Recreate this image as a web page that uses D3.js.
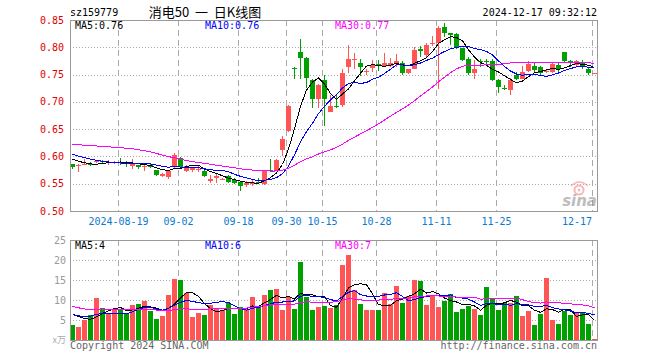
<!DOCTYPE html>
<html>
<head>
<meta charset="utf-8">
<script src="https://cdn.jsdelivr.net/npm/d3@7"></script>
<style>
  body { margin: 0; background: #fff; }
  svg text { font-family: "DejaVu Sans Mono", "Liberation Mono", monospace; }
</style>
</head>
<body>
<div id="chart"></div>
<script>
// trading days shown on the chart
var dates = [
  "2024-08-07","2024-08-08","2024-08-09","2024-08-12","2024-08-13","2024-08-14","2024-08-15","2024-08-16",
  "2024-08-19","2024-08-20","2024-08-21","2024-08-22","2024-08-23","2024-08-26","2024-08-27","2024-08-28",
  "2024-08-29","2024-08-30","2024-09-02","2024-09-03","2024-09-04","2024-09-05","2024-09-06","2024-09-09",
  "2024-09-10","2024-09-11","2024-09-12","2024-09-13","2024-09-18","2024-09-19","2024-09-20","2024-09-23",
  "2024-09-24","2024-09-25","2024-09-26","2024-09-27","2024-09-30","2024-10-08","2024-10-09","2024-10-10",
  "2024-10-11","2024-10-14","2024-10-15","2024-10-16","2024-10-17","2024-10-18","2024-10-21","2024-10-22",
  "2024-10-23","2024-10-24","2024-10-25","2024-10-28","2024-10-29","2024-10-30","2024-10-31","2024-11-01",
  "2024-11-04","2024-11-05","2024-11-06","2024-11-07","2024-11-08","2024-11-11","2024-11-12","2024-11-13",
  "2024-11-14","2024-11-15","2024-11-18","2024-11-19","2024-11-20","2024-11-21","2024-11-22","2024-11-25",
  "2024-11-26","2024-11-27","2024-11-28","2024-11-29","2024-12-02","2024-12-03","2024-12-04","2024-12-05",
  "2024-12-06","2024-12-09","2024-12-10","2024-12-11","2024-12-12","2024-12-13","2024-12-16","2024-12-17"
];

var opens = [
  0.586,0.582,0.585,0.587,0.589,0.592,0.588,0.589,0.590,0.590,0.582,0.584,0.582,0.585,0.575,0.564,
  0.563,0.580,0.597,0.574,0.575,0.576,0.573,0.555,0.560,0.558,0.564,0.557,0.554,0.548,0.549,0.554,
  0.550,0.576,0.576,0.611,0.647,0.762,0.792,0.781,0.740,0.705,0.740,0.682,0.693,0.694,0.764,0.777,
  0.771,0.755,0.762,0.770,0.766,0.766,0.769,0.771,0.752,0.761,0.796,0.786,0.806,0.807,0.837,0.826,
  0.824,0.798,0.778,0.752,0.775,0.774,0.774,0.740,0.726,0.722,0.750,0.742,0.757,0.766,0.763,0.755,
  0.755,0.768,0.791,0.775,0.768,0.772,0.761,0.752
];
var highs = [
  0.587,0.587,0.595,0.590,0.594,0.593,0.593,0.592,0.598,0.592,0.595,0.585,0.585,0.586,0.576,0.569,
  0.575,0.607,0.599,0.585,0.581,0.582,0.577,0.566,0.567,0.561,0.566,0.560,0.555,0.555,0.556,0.560,
  0.575,0.595,0.596,0.638,0.695,0.763,0.816,0.783,0.742,0.732,0.749,0.712,0.714,0.761,0.804,0.789,
  0.778,0.760,0.777,0.777,0.789,0.780,0.787,0.774,0.761,0.801,0.803,0.808,0.821,0.839,0.845,0.827,
  0.826,0.799,0.783,0.777,0.778,0.778,0.778,0.741,0.731,0.743,0.755,0.765,0.774,0.771,0.766,0.758,
  0.772,0.772,0.792,0.777,0.776,0.776,0.764,0.753
];
var lows = [
  0.577,0.571,0.584,0.583,0.588,0.587,0.585,0.587,0.585,0.580,0.577,0.577,0.574,0.579,0.565,0.563,
  0.558,0.578,0.579,0.572,0.572,0.572,0.563,0.551,0.552,0.557,0.552,0.549,0.537,0.544,0.546,0.549,
  0.548,0.572,0.574,0.600,0.645,0.741,0.742,0.725,0.689,0.689,0.656,0.681,0.688,0.690,0.752,0.760,
  0.747,0.749,0.755,0.757,0.764,0.764,0.764,0.749,0.751,0.760,0.782,0.783,0.802,0.723,0.819,0.804,
  0.797,0.774,0.749,0.741,0.764,0.767,0.738,0.717,0.722,0.713,0.740,0.741,0.755,0.755,0.749,0.752,
  0.752,0.755,0.772,0.764,0.764,0.760,0.749,0.752
];
var closes = [
  0.581,0.584,0.586,0.586,0.592,0.589,0.589,0.590,0.589,0.586,0.586,0.581,0.583,0.580,0.566,0.568,
  0.574,0.602,0.580,0.583,0.579,0.577,0.564,0.559,0.564,0.559,0.554,0.552,0.545,0.552,0.554,0.552,
  0.573,0.575,0.594,0.632,0.693,0.760,0.780,0.743,0.705,0.731,0.705,0.692,0.691,0.753,0.778,0.778,
  0.763,0.756,0.767,0.769,0.771,0.772,0.775,0.752,0.760,0.795,0.794,0.805,0.807,0.835,0.827,0.823,
  0.798,0.777,0.752,0.760,0.773,0.773,0.740,0.728,0.725,0.740,0.742,0.755,0.769,0.759,0.753,0.756,
  0.769,0.760,0.774,0.773,0.774,0.763,0.752,0.753
];
// volume, 10k shares (万)
var volumes = [
  3.75,3.25,5.1,6.25,10.5,8.0,6.7,7.7,7.7,6.7,8.75,9.0,9.75,7.2,5.2,6.0,
  11.25,15.25,15.0,11.7,5.75,6.75,6.25,8.75,7.75,7.5,9.25,6.5,8.25,7.75,10.75,8.5,
  11.25,12.5,12.75,7.5,10.7,7.75,19.6,10.8,7.5,8.25,8.5,8.0,8.67,18.8,21.25,12.5,
  9.0,7.5,7.5,7.5,11.75,9.0,13.5,9.25,11.0,15.0,14.75,8.75,11.0,8.25,9.75,11.5,
  7.0,7.75,8.5,7.75,6.25,13.25,10.25,7.5,9.25,9.25,11.0,6.0,7.25,3.75,6.5,15.5,
  5.0,4.0,7.25,6.25,7.0,7.0,4.0,0.3
];
// the 29 sessions before the window, estimated from where the MA lines start
var prevCloses = [
  0.605,0.607,0.609,0.611,0.612,0.613,0.614,0.615,0.616,0.618,
  0.628,0.638,0.646,0.652,0.657,0.660,0.661,0.659,0.654,0.645,
  0.618,0.616,0.613,0.610,0.608,0.603,0.600,0.597,0.594
];
var prevVolumes = [
  14,13,12,8,8.5,7.5,8,8.5,7.5,8,
  8,8,8,10,11,10,9,10,10,10,
  6,6.5,5.5,6,6,7,7.5,7.25,7.5
];

var priceTicks = [0.50, 0.55, 0.60, 0.65, 0.70, 0.75, 0.80, 0.85];
var volTicks = [5, 10, 15, 20, 25];
var dateTicks = ["2024-08-19","2024-09-02","2024-09-18","2024-09-30","2024-10-15","2024-10-28","2024-11-11","2024-11-25","2024-12-17"];
var dateTickLabels = ["2024-08-19","09-02","09-18","09-30","10-15","10-28","11-11","11-25","12-17"];

var svgWidth = 660;
var svgHeight = 360;

var left = 70, right = 597;
var priceTop = 20, priceBottom = 211;
var volTop = 240, volBottom = 340;

var red = "#ff5555";
var green = "#00a000";
var gridColor = "#aaaaaa";

var svg = d3.select("#chart")
  .append("svg")
  .attr("width", svgWidth)
  .attr("height", svgHeight);

// scales
var x = d3.scaleLinear().domain([0, 1]).range([left, left + 6]);
var y = d3.scaleLinear().domain([0.50, 0.85]).range([priceBottom, priceTop]);
var vy = d3.scaleLinear().domain([0, 25]).range([volBottom, volTop]);

// moving average helper, uses the earlier sessions for the first points
function movingAvg(values, prev, n) {
  var all = prev.concat(values);
  return values.map(function(v, i) {
    var end = prev.length + i + 1;
    return d3.mean(all.slice(end - n, end));
  });
}

var data = dates.map(function(d, i) {
  return { i: i, date: d, o: opens[i], h: highs[i], l: lows[i], c: closes[i], v: volumes[i] };
});

// ---------- grid ----------
var grid = svg.append("g");

grid.selectAll(".hgrid")
  .data(priceTicks.slice(1, -1))
  .enter()
  .append("line")
  .attr("x1", left)
  .attr("x2", right)
  .attr("y1", d => Math.round(y(d)) + 0.5)
  .attr("y2", d => Math.round(y(d)) + 0.5)
  .attr("stroke", gridColor)
  .attr("stroke-dasharray", "1,2");

grid.selectAll(".vgrid")
  .data(volTicks.slice(0, -1))
  .enter()
  .append("line")
  .attr("x1", left)
  .attr("x2", right)
  .attr("y1", d => Math.round(vy(d)) + 0.5)
  .attr("y2", d => Math.round(vy(d)) + 0.5)
  .attr("stroke", gridColor)
  .attr("stroke-dasharray", "1,2");

var tickIdx = dateTicks.map(d => dates.indexOf(d));

[[priceTop, priceBottom], [volTop, volBottom]].forEach(function(p) {
  grid.selectAll(null)
    .data(tickIdx)
    .enter()
    .append("line")
    .attr("x1", d => x(d) + 0.5)
    .attr("x2", d => x(d) + 0.5)
    .attr("y1", p[0])
    .attr("y2", p[1])
    .attr("stroke", gridColor)
    .attr("stroke-dasharray", "6,4");
});

// ---------- sina watermark ----------
var wm = svg.append("g").attr("opacity", 0.55);
wm.append("circle").attr("cx", 579).attr("cy", 190).attr("r", 4.5)
  .attr("fill", "none").attr("stroke", "#f08080").attr("stroke-width", 2);
wm.append("circle").attr("cx", 579).attr("cy", 190).attr("r", 1.5).attr("fill", "#f08080");
wm.append("path").attr("d", "M571,186 Q579,178 588,186").attr("fill", "none")
  .attr("stroke", "#f08080").attr("stroke-width", 1.5);
wm.append("text")
  .attr("x", 597).attr("y", 206)
  .attr("text-anchor", "end")
  .style("font-family", "DejaVu Sans")
  .style("font-style", "italic")
  .style("font-weight", "bold")
  .style("font-size", "15px")
  .attr("fill", "#888")
  .text("sina");

// ---------- candles ----------
var candles = svg.append("g").attr("shape-rendering", "crispEdges");

candles.selectAll(".wick")
  .data(data)
  .enter()
  .append("rect")
  .attr("x", d => x(d.i) + 2)
  .attr("width", 1)
  .attr("y", d => Math.round(y(d.h)))
  .attr("height", d => Math.max(1, Math.round(y(d.l)) - Math.round(y(d.h))))
  .attr("fill", d => d.c >= d.o ? red : green);

candles.selectAll(".body")
  .data(data)
  .enter()
  .append("rect")
  .attr("x", d => x(d.i))
  .attr("width", 5)
  .attr("y", d => Math.round(y(Math.max(d.o, d.c))))
  .attr("height", d => Math.max(1, Math.round(y(Math.min(d.o, d.c))) - Math.round(y(Math.max(d.o, d.c)))))
  .attr("fill", d => d.c >= d.o ? red : green);

// ---------- volume bars ----------
svg.append("g")
  .attr("shape-rendering", "crispEdges")
  .selectAll("rect")
  .data(data)
  .enter()
  .append("rect")
  .attr("x", d => x(d.i))
  .attr("width", 5)
  .attr("y", d => Math.round(vy(d.v)))
  .attr("height", d => volBottom - Math.round(vy(d.v)))
  .attr("fill", d => d.c >= d.o ? red : green);

// ---------- moving averages ----------
var maDefs = [
  { n: 5, color: "#000000" },
  { n: 10, color: "#0000ff" },
  { n: 30, color: "#ff00ff" }
];

maDefs.forEach(function(m) {
  var pm = movingAvg(closes, prevCloses, m.n);
  var vm = movingAvg(volumes, prevVolumes, m.n);

  svg.append("path")
    .datum(pm)
    .attr("fill", "none")
    .attr("stroke", m.color)
    .attr("stroke-width", 1)
    .attr("shape-rendering", "crispEdges")
    .attr("d", d3.line().x((d, i) => x(i) + 2.5).y(d => y(d)));

  svg.append("path")
    .datum(vm)
    .attr("fill", "none")
    .attr("stroke", m.color)
    .attr("stroke-width", 1)
    .attr("shape-rendering", "crispEdges")
    .attr("d", d3.line().x((d, i) => x(i) + 2.5).y(d => vy(d)));
});

// ---------- frames ----------
svg.append("rect")
  .attr("x", left + 0.5).attr("y", priceTop + 0.5)
  .attr("width", right - left).attr("height", priceBottom - priceTop)
  .attr("fill", "none").attr("stroke", "#999");

svg.append("rect")
  .attr("x", left + 0.5).attr("y", volTop + 0.5)
  .attr("width", right - left).attr("height", volBottom - volTop)
  .attr("fill", "none").attr("stroke", "#999");

// ---------- axis labels ----------
svg.append("g")
  .selectAll("text")
  .data(priceTicks)
  .enter()
  .append("text")
  .attr("x", 64)
  .attr("y", d => y(d) + 3.5)
  .attr("text-anchor", "end")
  .attr("fill", "#e00000")
  .style("font-size", "10px")
  .text(d => d.toFixed(2));

svg.append("g")
  .selectAll("text")
  .data(volTicks)
  .enter()
  .append("text")
  .attr("x", 66)
  .attr("y", d => vy(d) + 3.5)
  .attr("text-anchor", "end")
  .attr("fill", "#999")
  .style("font-size", "10px")
  .text(d => d);

svg.append("text")
  .attr("x", 66).attr("y", 343)
  .attr("text-anchor", "end")
  .attr("fill", "#aaa")
  .style("font-size", "9px")
  .style("font-family", "Noto Sans CJK SC")
  .text("x万");

svg.append("g")
  .selectAll("text")
  .data(tickIdx)
  .enter()
  .append("text")
  .attr("x", (d, i) => i === tickIdx.length - 1 ? 592 : x(d) + 0.5)
  .attr("y", 225)
  .attr("text-anchor", (d, i) => i === tickIdx.length - 1 ? "end" : "middle")
  .attr("fill", "#0a7ad0")
  .style("font-size", "10px")
  .text((d, i) => dateTickLabels[i]);

// ---------- header ----------
svg.append("text").attr("x", 70).attr("y", 16)
  .style("font-size", "10px").text("sz159779");

svg.append("text").attr("x", 205).attr("y", 17)
  .attr("text-anchor", "middle")
  .style("font-family", "Noto Sans CJK SC")
  .style("font-size", "13px")
  .style("white-space", "pre")
  .text("消电50  一  日K线图");

svg.append("text").attr("x", 597).attr("y", 16)
  .attr("text-anchor", "end")
  .style("font-size", "10px").text("2024-12-17 09:32:12");

// MA legends
var legends = [
  { x: 75, y: 29, t: "MA5:0.76", c: "#000" },
  { x: 205, y: 29, t: "MA10:0.76", c: "#0000ff" },
  { x: 335, y: 29, t: "MA30:0.77", c: "#ff00ff" },
  { x: 75, y: 249, t: "MA5:4", c: "#000" },
  { x: 205, y: 249, t: "MA10:6", c: "#0000ff" },
  { x: 335, y: 249, t: "MA30:7", c: "#ff00ff" }
];
svg.append("g")
  .selectAll("text")
  .data(legends)
  .enter()
  .append("text")
  .attr("x", d => d.x)
  .attr("y", d => d.y)
  .attr("fill", d => d.c)
  .style("font-size", "10px")
  .text(d => d.t);

// footer
svg.append("text").attr("x", 70).attr("y", 349)
  .attr("fill", "#666").style("font-size", "10px")
  .text("Copyright 2024 SINA.COM");

svg.append("text").attr("x", 597).attr("y", 349)
  .attr("text-anchor", "end")
  .attr("fill", "#666").style("font-size", "10px")
  .text("http://finance.sina.com.cn");
</script>
</body>
</html>
